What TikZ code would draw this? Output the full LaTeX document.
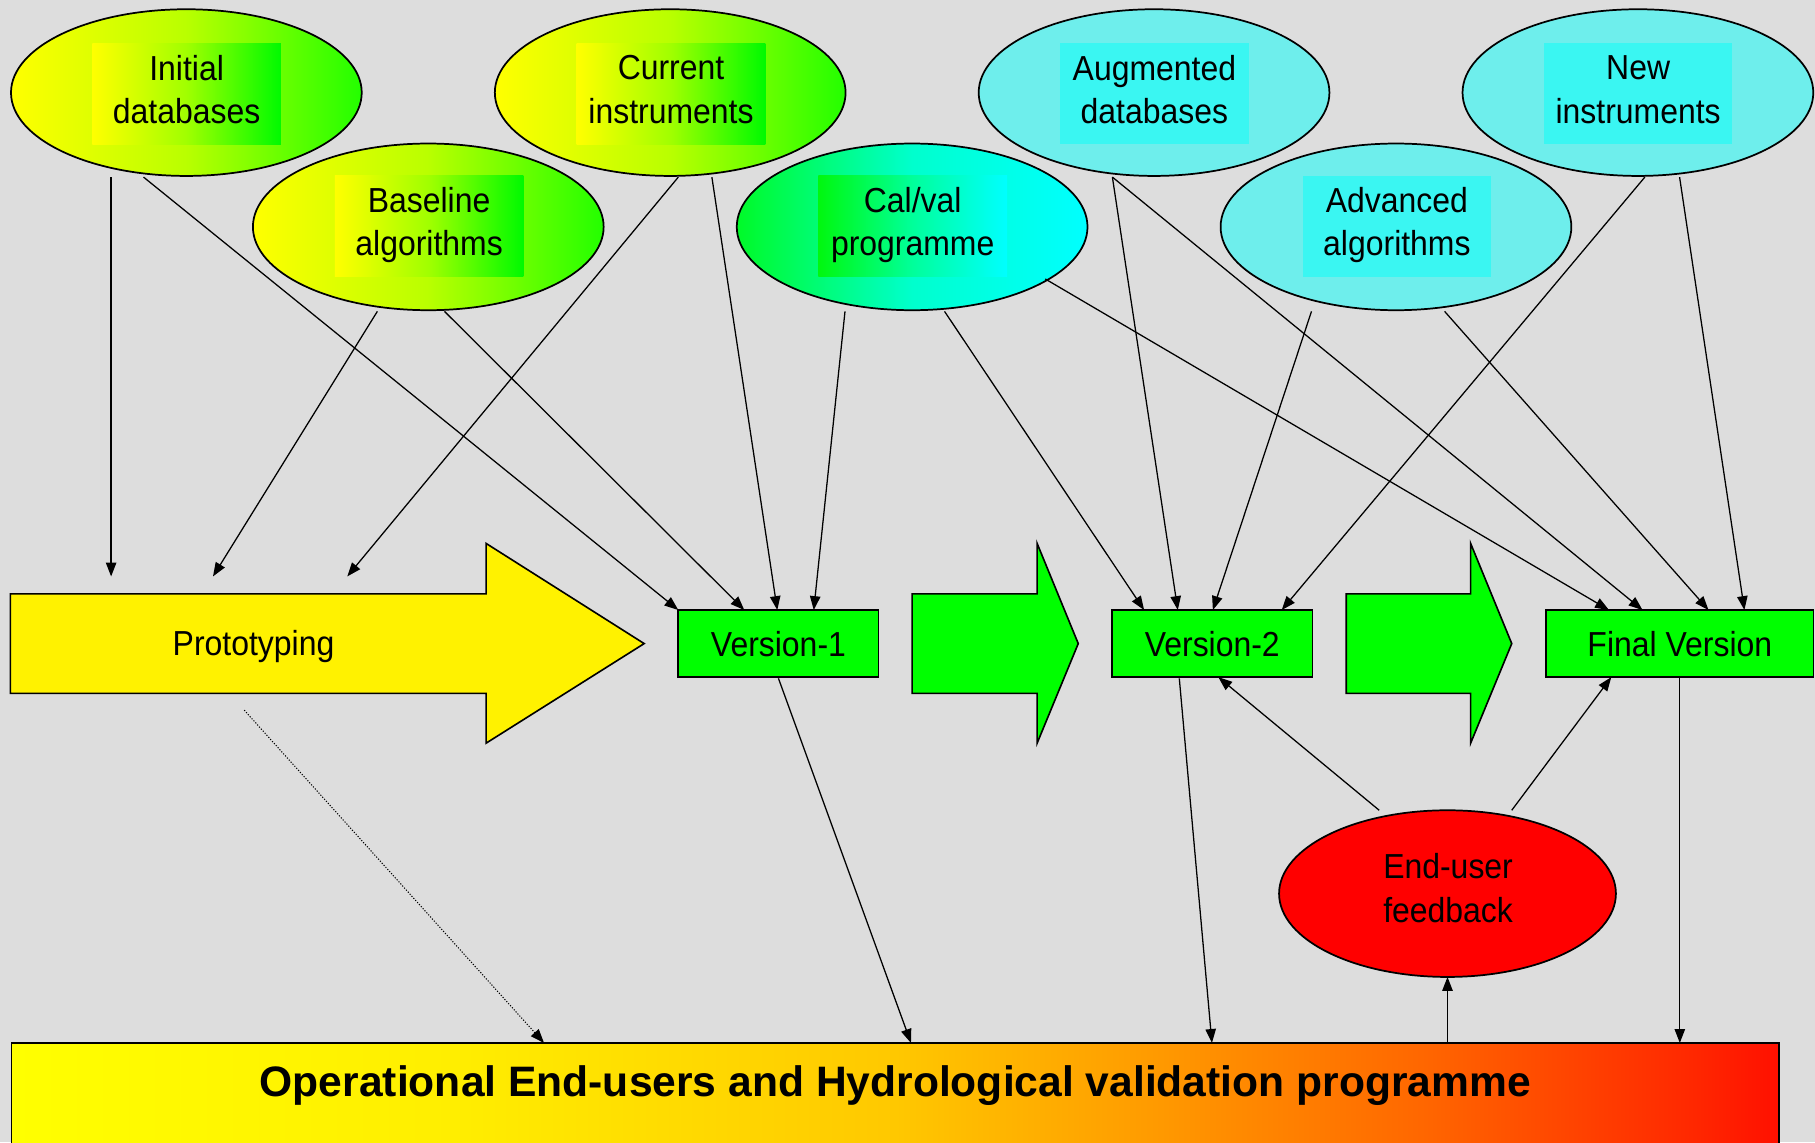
\documentclass[tikz,border=0pt]{standalone}
\usepackage{fontspec}
\setmainfont{Liberation Sans}
\newfontfamily\lblfont[FakeStretch=0.92]{Liberation Sans}
\newfontfamily\titlefont{Liberation Sans}
\usetikzlibrary{arrows.meta,calc,shapes.geometric}

\definecolor{bggray}{RGB}{221,221,221}
\definecolor{vgreen}{RGB}{0,255,0}
\definecolor{ygMid}{RGB}{185,255,0}
\definecolor{ygEnd}{RGB}{35,255,0}
\definecolor{ygBoxMid}{RGB}{160,255,0}
\definecolor{ygBoxEnd}{RGB}{0,250,0}
\definecolor{cvStart}{RGB}{0,250,40}
\definecolor{cvMid}{RGB}{0,255,205}
\definecolor{cvBoxStart}{RGB}{0,248,15}
\definecolor{cvBoxMid}{RGB}{0,255,155}
\definecolor{paleCyan}{RGB}{110,238,236}
\definecolor{boxCyan}{RGB}{58,246,242}
\definecolor{opsA}{RGB}{255,238,0}
\definecolor{opsB}{RGB}{255,200,0}
\definecolor{opsC}{RGB}{255,153,0}
\definecolor{opsD}{RGB}{255,102,0}
\definecolor{opsE}{RGB}{255,40,0}
\definecolor{opsF}{RGB}{255,16,0}

% yellow -> orange -> red band for the validation programme bar
\pgfdeclarehorizontalshading{opsshade}{100bp}{color(0bp)=(yellow); color(25bp)=(yellow);
  color(37.5bp)=(opsA); color(50bp)=(opsB); color(57.5bp)=(opsC); color(65bp)=(opsD);
  color(72.5bp)=(opsE); color(75bp)=(opsF); color(100bp)=(opsF)}

\tikzset{
  bubble/.style={ellipse, draw=black, line width=1.5pt, minimum width=303pt,
    minimum height=144pt, inner sep=0pt, outer sep=0pt},
  ygbubble/.style={bubble, left color=yellow, right color=ygEnd, middle color=ygMid},
  cvbubble/.style={bubble, left color=cvStart, right color=cyan, middle color=cvMid},
  cybubble/.style={bubble, fill=paleCyan},
  tagbox/.style={rectangle, draw=none, minimum width=163pt, minimum height=87pt,
    inner sep=0pt, outer sep=0pt},
  ygtag/.style={tagbox, left color=yellow, right color=ygBoxEnd, middle color=ygBoxMid},
  cvtag/.style={tagbox, left color=cvBoxStart, right color=cyan, middle color=cvBoxMid},
  cytag/.style={tagbox, fill=boxCyan},
  lbl/.style={font=\lblfont\fontsize{30}{38}\selectfont, inner sep=0pt, text=black},
  vbox/.style={rectangle, draw=black, line width=1.5pt, fill=vgreen, minimum height=58pt,
    inner sep=0pt, outer sep=0pt, font=\lblfont\fontsize{30}{38}\selectfont},
  stagearrow/.style={draw=black, line width=1.4pt, line join=miter},
  conn/.style={line width=1.1pt, -{Triangle[length=12pt,width=9pt]}},
  hint/.style={line width=0.9pt, dash pattern=on 1pt off 1.4pt,
    -{Triangle[length=12pt,width=9pt]}}
}

\begin{document}
\begin{tikzpicture}[x=1pt,y=-1pt]
\useasboundingbox (0,0) rectangle (1568,987);
\fill[bggray] (0,0) rectangle (1568,987);
\clip (0,0) rectangle (1568,987);

% stage arrows
\draw[stagearrow, fill=yellow] (9,513) -- (420,513) -- (420,469.5) -- (556.5,556)
  -- (420,642) -- (420,599) -- (9,599) -- cycle;
\node[inner sep=0pt, outer sep=0pt, minimum width=411pt, minimum height=86pt] (proto) at (214.5,556) {};
\node[lbl, anchor=base] (prototxt) at (219,566) {Prototyping};
\draw[stagearrow, fill=vgreen] (788,513) -- (896,513) -- (896,469.5) -- (931.5,556)
  -- (896,642) -- (896,599) -- (788,599) -- cycle;
\draw[stagearrow, fill=vgreen] (1163,513) -- (1270.5,513) -- (1270.5,469.5) -- (1306,556)
  -- (1270.5,642) -- (1270.5,599) -- (1163,599) -- cycle;

% product versions
\node[vbox, minimum width=173pt] (v1) at (672.5,556) {Version-1};
\node[vbox, minimum width=173pt] (v2) at (1047.3,556) {Version-2};
\node[vbox, minimum width=231pt] (fv) at (1451.2,556) {Final Version};

% inputs, first row
\node[ygbubble] (idb) at (161,80) {};
\node[ygtag] (idbtag) at (161.2,81) {};
\node[lbl, align=center] (idbtxt) at (161.2,77.4) {Initial\\databases};

\node[ygbubble] (cur) at (579,80) {};
\node[ygtag] (curtag) at (579.7,81) {};
\node[lbl, align=center] (curtxt) at (579.7,77.4) {Current\\instruments};

\node[cybubble] (aug) at (997,80) {};
\node[cytag] (augtag) at (997.3,81) {};
\node[lbl, align=center] (augtxt) at (997.3,77.4) {Augmented\\databases};

\node[cybubble] (new) at (1415,80) {};
\node[cytag] (newtag) at (1415.2,81) {};
\node[lbl, align=center] (newtxt) at (1415.2,77.4) {New\\instruments};

% inputs, second row
\node[ygbubble] (base) at (370,196) {};
\node[ygtag] (basetag) at (370.7,195.5) {};
\node[lbl, align=center] (basetxt) at (370.7,194.4) {Baseline\\algorithms};

\node[cvbubble] (cal) at (788,196) {};
\node[cvtag] (caltag) at (788.5,195.5) {};
\node[lbl, align=center] (caltxt) at (788.5,194.4) {Cal/val\\programme};

\node[cybubble] (adv) at (1206,196) {};
\node[cytag] (advtag) at (1206.8,195.5) {};
\node[lbl, align=center] (advtxt) at (1206.8,194.4) {Advanced\\algorithms};

% feedback and operational programme
\node[bubble, fill=red, minimum width=291pt] (eu) at (1250.5,772) {};
\node[lbl, align=center] (eutxt) at (1251,767) {End-user\\feedback};

\node[rectangle, draw=black, line width=1.5pt, shading=opsshade, minimum width=1527pt,
  minimum height=100pt, inner sep=0pt, outer sep=0pt] (ops) at (773.5,951) {};
\node[font=\titlefont\bfseries\fontsize{36.8}{44}\selectfont, inner sep=0pt, anchor=base]
  (opstxt) at (773.5,947.5) {Operational End-users and Hydrological validation programme};

% connectors into prototyping
\draw[conn] ($(idb.south)+(-65,1)$) -- ($(proto.north west)+(87,-15)$);
\draw[conn] ($(base.south)+(-44,1)$) -- ($(proto.north west)+(175,-15)$);
\draw[conn] ($(cur.south)+(7,1)$) -- ($(proto.north west)+(291,-15)$);

% connectors into Version-1
\draw[conn] ($(idb.south)+(-37,1)$) -- (v1.north west);
\draw[conn] ($(base.south)+(14,1)$) -- ($(v1.north west)+(57,0)$);
\draw[conn] ($(cur.south)+(36,1)$) -- ($(v1.north west)+(85.5,0)$);
\draw[conn] ($(cal.south)+(-58,1)$) -- ($(v1.north west)+(117,0)$);

% connectors into Version-2
\draw[conn] ($(cal.south)+(28,1)$) -- ($(v2.north west)+(27.6,0)$);
\draw[conn] ($(aug.south)+(-36,1)$) -- ($(v2.north west)+(56.7,0)$);
\draw[conn] ($(adv.south)+(-73,1)$) -- ($(v2.north west)+(87,0)$);
\draw[conn] ($(new.south)+(6,1)$) -- ($(v2.north west)+(146.5,0)$);

% connectors into the final version
\draw[conn] ($(cal.center)+(115,45)$) -- ($(fv.north west)+(54.3,0)$);
\draw[conn] ($(aug.south)+(-36,1)$) -- ($(fv.north west)+(83.3,0)$);
\draw[conn] ($(adv.south)+(42,1)$) -- ($(fv.north west)+(140.3,0)$);
\draw[conn] ($(new.south)+(36,1)$) -- ($(fv.north west)+(171.3,0)$);

% delivery to the operational programme
\draw[conn] ($(v1.south)+(0,1)$) -- ($(ops.north west)+(777,0)$);
\draw[conn] ($(v2.south west)+(58,1)$) -- ($(ops.north west)+(1037,0)$);
\draw[conn] (fv.south) -- (fv.south |- ops.north);
\draw[hint] ($(proto.south)+(-3.5,14.5)$) -- ($(ops.north west)+(460,0)$);

% feedback loop
\draw[conn] (eu.south |- ops.north) -- (eu.south);
\draw[conn] ($(eu.north)+(-59,0)$) -- ($(v2.south west)+(91.7,0)$);
\draw[conn] ($(eu.north)+(55.5,0)$) -- ($(fv.south west)+(56.3,0)$);
\end{tikzpicture}
\end{document}
